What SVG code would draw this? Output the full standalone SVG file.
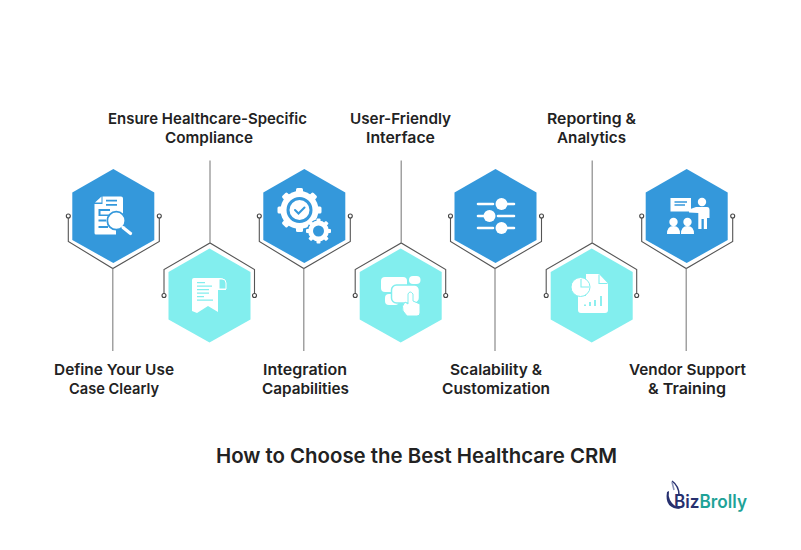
<svg xmlns="http://www.w3.org/2000/svg" width="801" height="550" viewBox="0 0 801 550">
<style>
.lbl{font-family:"Inter","Liberation Sans",sans-serif;font-weight:600;font-size:14.95px;fill:#222;text-anchor:middle}
.ttl{font-family:"Inter","Liberation Sans",sans-serif;font-weight:600;font-size:20.4px;fill:#222;text-anchor:middle}
.blue{fill:#3498db}.teal{fill:#82eeee}
.w{fill:#fff}.wl{stroke:#fff;stroke-width:2.6;fill:none;stroke-linecap:round}
.br{fill:none;stroke:#555;stroke-width:1.1}
.st{fill:none;stroke:#8a8a8a;stroke-width:1.2}
.dot{fill:#fff;stroke:#444;stroke-width:1.1}
.logo{font-family:"Inter","Liberation Sans",sans-serif;font-size:18px;font-weight:600}
</style>
<defs>
<polygon id="hexB" points="0,0 41,23.5 41,71 0,94 -41,71 -41,23.5"/>
<g id="brDown"><path class="br" d="M-45,47V72.5L-.5,99.5L46,72.5V47"/><circle class="dot" cx="-45" cy="47" r="2"/><circle class="dot" cx="46" cy="47" r="2"/><path class="st" d="M-.5,99.5V182"/></g>
<g id="brUp"><path class="br" d="M-45.500,46.500V21L.5,-5.500L45,21V46.500"/><circle class="dot" cx="-45.500" cy="47" r="2"/><circle class="dot" cx="45" cy="47" r="2"/><path class="st" d="M.5,-5.500V-88"/></g>
</defs>
<rect width="801" height="550" fill="#fff"/>
<g id="connectors">
<use href="#brDown" x="113.300" y="169"/>
<use href="#brUp" x="209.500" y="248.500"/>
<use href="#brDown" x="304.300" y="169"/>
<use href="#brUp" x="400.700" y="248.500"/>
<use href="#brDown" x="495.500" y="169"/>
<use href="#brUp" x="591.700" y="248.500"/>
<use href="#brDown" x="686.700" y="169"/>
</g>
<g id="node-define">
<use href="#hexB" class="blue" x="113.300" y="169"/>
<path class="w" d="M102.500,196.500H121Q123,196.500 123,198.500V222H116V234.500H96Q94.500,234.500 94.500,233V204H102.500ZM95,202.500L101.500,196.500V202.500Z"/>
<path fill="#3498db" d="M106,199.800H117V201.500H106ZM106,204H117V205.700H106ZM98.500,209H110V211H100.500V214.500H110V216H98.500ZM98.500,219.500H106V221.500H98.500ZM98.500,226H108V228H98.500Z"/>
<circle cx="116.300" cy="220.700" r="9" class="w" stroke="#3498db" stroke-width="1.800"/>
<path d="M123,227.500L130.500,233.500" fill="none" stroke="#fff" stroke-width="3.200" stroke-linecap="round"/>
</g>
<g id="node-compliance">
<use href="#hexB" class="teal" x="209.500" y="248.500"/>
<path class="w" d="M194,278H220Q226,278 226,284V290H218V312L208,306L197,313L192,311V280Q192,278 194,278Z"/>
<path fill="#82eeee" d="M197,282H205V283.200H197ZM197,285.500H212V286.700H197ZM197,289H209V290.200H197ZM197,292.500H209V293.700H197ZM197,296H204V297.200H197ZM197,299.500H213V300.700H197Z"/>
<path d="M219,279H222Q226,279 226,283V289H219Z" fill="#82eeee" stroke="#fff" stroke-width="1"/>
</g>
<g id="node-integration">
<use href="#hexB" class="blue" x="304.300" y="169"/>
<circle cx="299.500" cy="210" r="19" class="w"/>
<g class="w"><rect x="296" y="188" width="7" height="44" rx="1.500"/><rect x="277.500" y="206.500" width="44" height="7" rx="1.500"/><rect x="296" y="188" width="7" height="44" rx="1.500" transform="rotate(45 299.500 210)"/><rect x="296" y="188" width="7" height="44" rx="1.500" transform="rotate(-45 299.500 210)"/></g>
<circle cx="299.500" cy="210" r="11.500" fill="none" stroke="#3498db" stroke-width="3"/>
<path d="M295,210L298.500,213.500L304.500,207.500" fill="none" stroke="#3498db" stroke-width="2" stroke-linecap="round"/>
<circle cx="318.500" cy="231" r="11" class="w" stroke="#3498db" stroke-width="1.200"/>
<g class="w"><rect x="316.500" y="218.500" width="4" height="25" rx="1"/><rect x="306" y="229" width="25" height="4" rx="1"/><rect x="316.500" y="218.500" width="4" height="25" rx="1" transform="rotate(45 318.500 231)"/><rect x="316.500" y="218.500" width="4" height="25" rx="1" transform="rotate(-45 318.500 231)"/></g>
<circle cx="318.500" cy="231" r="5.500" fill="#3498db"/>
</g>
<g id="node-interface">
<use href="#hexB" class="teal" x="400.700" y="248.500"/>
<rect x="381" y="277" width="26" height="15" rx="4" class="w"/>
<rect x="409" y="276" width="11.500" height="8" rx="4" class="w"/>
<rect x="385" y="294" width="14" height="11" rx="4" class="w"/>
<rect x="391.500" y="285" width="28" height="18" rx="5" class="w" stroke="#82eeee" stroke-width="1.500"/>
<path class="w" stroke="#82eeee" stroke-width="1" d="M403,311L407,316H417Q420,316 420,313V304L413,301V294Q410,290 408,294V304L405,302Q401,306 403,311Z"/>
</g>
<g id="node-scalability">
<use href="#hexB" class="blue" x="495.500" y="169"/>
<path class="wl" stroke-width="2.400" d="M478,204H493M507,204H514M478,216H484M498,216H514M478,228H493M507,228H514"/>
<circle cx="501.500" cy="204" r="6" class="w"/><circle cx="489.500" cy="216" r="6" class="w"/><circle cx="501.500" cy="228" r="6" class="w"/>
</g>
<g id="node-reporting">
<use href="#hexB" class="teal" x="591.700" y="248.500"/>
<path class="w" d="M586,274H599L608,283.500V310Q608,313 605,313H581Q578,313 578,310V296H586Z"/>
<circle cx="580.500" cy="287" r="9.500" class="w" stroke="#82eeee" stroke-width="1"/>
<path d="M581,279V287H589" fill="none" stroke="#82eeee" stroke-width="1.100"/>
<path d="M599,274.500V283.500H607.500" fill="none" stroke="#82eeee" stroke-width="1.100"/>
<path d="M585,306V304.500M590,306V302M595,306V300M601,306V296" stroke="#82eeee" stroke-width="1.800" fill="none"/>
</g>
<g id="node-vendor">
<use href="#hexB" class="blue" x="686.700" y="169"/>
<rect x="670.500" y="198" width="20.500" height="13.500" class="w"/>
<path d="M674.500,202H687M674.500,205H685" stroke="#3498db" stroke-width="1.300"/>
<circle cx="702" cy="202" r="4.200" class="w"/>
<path class="w" d="M696,207H707Q709.500,207 709.500,210V218H707V229H703.800V219H701.500V229H698.300V213L689,212.500V209.500Z"/>
<circle cx="673.500" cy="222" r="4.200" class="w"/><circle cx="687.500" cy="222" r="4.200" class="w"/>
<path class="w" d="M667,234Q667,226 673.500,226Q680,226 680,234ZM681,234Q681,226 687.500,226Q694,226 694,234Z"/>
</g>
<g id="labels">
<text class="lbl" x="207.500" y="123.500" textLength="199" lengthAdjust="spacingAndGlyphs">Ensure Healthcare-Specific</text>
<text class="lbl" x="209" y="142.500" textLength="88" lengthAdjust="spacingAndGlyphs">Compliance</text>
<text class="lbl" x="400.500" y="123.500" textLength="101" lengthAdjust="spacingAndGlyphs">User-Friendly</text>
<text class="lbl" x="400.500" y="142.500" textLength="69" lengthAdjust="spacingAndGlyphs">Interface</text>
<text class="lbl" x="591.500" y="123.500" textLength="89" lengthAdjust="spacingAndGlyphs">Reporting &amp;</text>
<text class="lbl" x="591.500" y="142.500" textLength="69" lengthAdjust="spacingAndGlyphs">Analytics</text>
<text class="lbl" x="114" y="374.500" textLength="120" lengthAdjust="spacingAndGlyphs">Define Your Use</text>
<text class="lbl" x="114" y="393.500" textLength="90" lengthAdjust="spacingAndGlyphs">Case Clearly</text>
<text class="lbl" x="305" y="374.500" textLength="84" lengthAdjust="spacingAndGlyphs">Integration</text>
<text class="lbl" x="305.500" y="393.500" textLength="87" lengthAdjust="spacingAndGlyphs">Capabilities</text>
<text class="lbl" x="496" y="374.500" textLength="92" lengthAdjust="spacingAndGlyphs">Scalability &amp;</text>
<text class="lbl" x="496" y="393.500" textLength="108" lengthAdjust="spacingAndGlyphs">Customization</text>
<text class="lbl" x="687.500" y="374.500" textLength="117" lengthAdjust="spacingAndGlyphs">Vendor Support</text>
<text class="lbl" x="687" y="393.500" textLength="78" lengthAdjust="spacingAndGlyphs">&amp; Training</text>
<text class="ttl" x="416.500" y="462.500">How to Choose the Best Healthcare CRM</text>
</g>
<g id="logo">
<path d="M667,492Q664,509 681,509Q673,506 670,500Q668,496 669,491Z" fill="#27306f"/>
<path d="M672,481Q679,486 679,495" fill="none" stroke="#27306f" stroke-width="1.500"/>
<path d="M672,482L674,490" fill="none" stroke="#8a93b8" stroke-width="1.500"/>
<text class="logo" x="674" y="508" textLength="73" lengthAdjust="spacingAndGlyphs"><tspan fill="#27306f">Biz</tspan><tspan fill="#1fa398">Brolly</tspan></text>
</g>
</svg>
